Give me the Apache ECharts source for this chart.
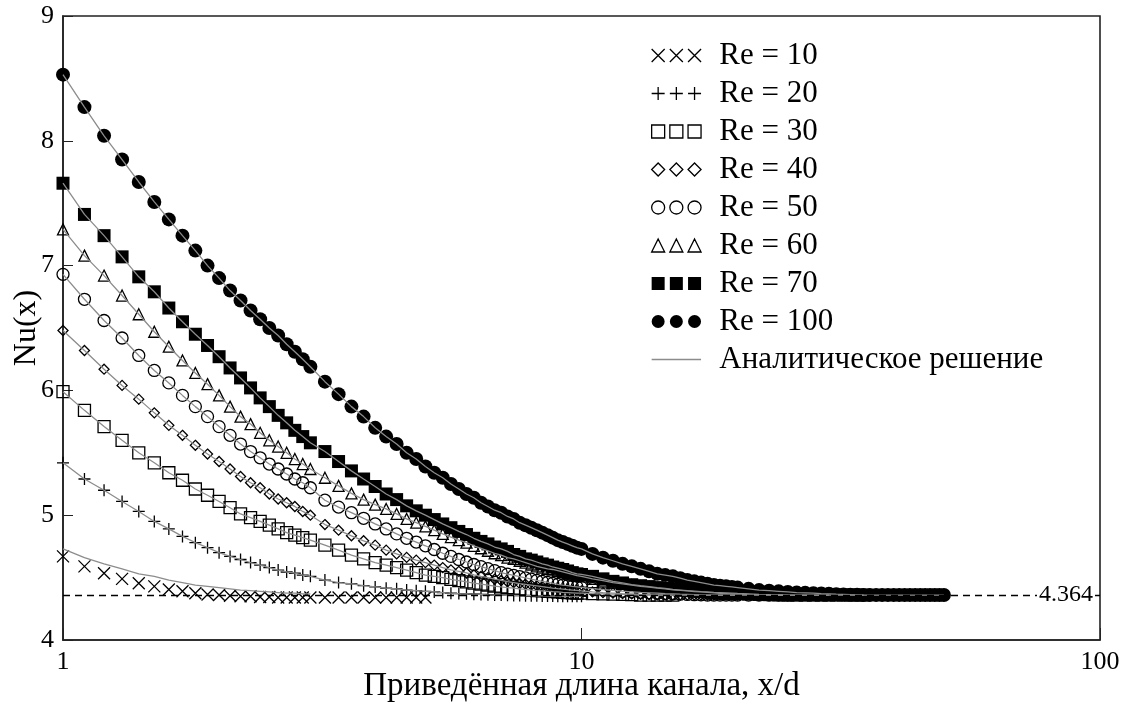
<!DOCTYPE html>
<html>
<head>
<meta charset="utf-8">
<title>Nu(x)</title>
<script src="https://cdn.jsdelivr.net/npm/echarts@6/dist/echarts.min.js"></script>
<style>
html, body { margin: 0; padding: 0; background: #fff; }
#main { width: 1121px; height: 703px; }
</style>
</head>
<body>
<div id="main"></div>
<script>
// x/d points, shared by all series (each series uses as many as it has values)
var xd = [1, 1.1, 1.2, 1.3, 1.4, 1.5, 1.6, 1.7, 1.8, 1.9, 2, 2.1, 2.2, 2.3, 2.4, 2.5, 2.6, 2.7, 2.8, 2.9, 3,
    3.2, 3.4, 3.6, 3.8, 4, 4.2, 4.4, 4.6, 4.8, 5, 5.2, 5.4, 5.6, 5.8, 6, 6.2, 6.4, 6.6, 6.8, 7,
    7.2, 7.4, 7.6, 7.8, 8, 8.2, 8.4, 8.6, 8.8, 9, 9.2, 9.4, 9.6, 9.8, 10,
    10.5, 11, 11.5, 12, 12.5, 13, 13.5, 14, 14.5, 15, 15.5, 16, 16.5, 17, 17.5, 18, 18.5, 19, 19.5, 20,
    21, 22, 23, 24, 25, 26, 27, 28, 29, 30, 31, 32, 33, 34, 35, 36, 37, 38, 39, 40,
    41, 42, 43, 44, 45, 46, 47, 48, 49, 50];

var nuRe10 = [4.67, 4.59, 4.535, 4.49, 4.455, 4.43, 4.405, 4.39, 4.375, 4.365, 4.36, 4.355, 4.35, 4.35, 4.345, 4.345, 4.34, 4.34, 4.34, 4.34, 4.34,
    4.34, 4.34, 4.34, 4.34, 4.34, 4.34, 4.34, 4.34, 4.34, 4.34];

var nuRe20 = [5.42, 5.29, 5.2, 5.11, 5.03, 4.95, 4.89, 4.83, 4.78, 4.74, 4.7, 4.67, 4.645, 4.62, 4.6, 4.58, 4.56, 4.545, 4.535, 4.52, 4.51,
    4.48, 4.46, 4.45, 4.435, 4.425, 4.415, 4.41, 4.4, 4.395, 4.39, 4.385, 4.38, 4.375, 4.372, 4.37, 4.367, 4.365, 4.362, 4.36, 4.36,
    4.358, 4.357, 4.356, 4.355, 4.355, 4.354, 4.353, 4.352, 4.352, 4.351, 4.35, 4.35, 4.35, 4.35, 4.35];

var nuRe30 = [5.99, 5.84, 5.71, 5.6, 5.5, 5.42, 5.34, 5.28, 5.21, 5.16, 5.11, 5.06, 5.01, 4.98, 4.95, 4.92, 4.89, 4.86, 4.84, 4.82, 4.8,
    4.76, 4.72, 4.68, 4.65, 4.62, 4.6, 4.58, 4.56, 4.54, 4.52, 4.51, 4.5, 4.485, 4.475, 4.465, 4.455, 4.447, 4.44, 4.432, 4.425,
    4.42, 4.415, 4.41, 4.405, 4.4, 4.396, 4.393, 4.39, 4.387, 4.385, 4.382, 4.38, 4.378, 4.376, 4.375,
    4.372, 4.37, 4.367, 4.365, 4.363, 4.36, 4.36, 4.36, 4.36, 4.36];

var nuRe40 = [6.48, 6.32, 6.17, 6.04, 5.93, 5.82, 5.72, 5.64, 5.56, 5.49, 5.43, 5.37, 5.31, 5.26, 5.22, 5.17, 5.13, 5.1, 5.07, 5.03, 5,
    4.925, 4.88, 4.835, 4.795, 4.76, 4.72, 4.69, 4.662, 4.64, 4.62, 4.6, 4.58, 4.562, 4.55, 4.537, 4.522, 4.51, 4.5, 4.487, 4.477,
    4.467, 4.46, 4.452, 4.446, 4.44, 4.434, 4.428, 4.422, 4.416, 4.411, 4.407, 4.403, 4.4, 4.397, 4.393,
    4.385, 4.38, 4.376, 4.372, 4.369, 4.366, 4.364, 4.362, 4.361, 4.36, 4.36, 4.36, 4.36, 4.36, 4.36, 4.36, 4.36, 4.36, 4.36, 4.36];

var nuRe50 = [6.93, 6.73, 6.56, 6.42, 6.28, 6.16, 6.06, 5.96, 5.87, 5.79, 5.71, 5.64, 5.57, 5.51, 5.46, 5.41, 5.37, 5.33, 5.29, 5.26, 5.22,
    5.12, 5.065, 5.02, 4.975, 4.93, 4.89, 4.85, 4.815, 4.785, 4.755, 4.725, 4.695, 4.67, 4.645, 4.625, 4.605, 4.588, 4.572, 4.556, 4.54,
    4.528, 4.518, 4.508, 4.498, 4.488, 4.478, 4.47, 4.462, 4.454, 4.446, 4.44, 4.435, 4.43, 4.426, 4.422,
    4.412, 4.403, 4.397, 4.391, 4.386, 4.381, 4.378, 4.375, 4.372, 4.37, 4.367, 4.365, 4.363, 4.362, 4.36, 4.36, 4.36, 4.36, 4.36, 4.36,
    4.36, 4.36, 4.36, 4.36, 4.36];

var nuRe60 = [7.29, 7.08, 6.92, 6.76, 6.61, 6.47, 6.35, 6.24, 6.14, 6.05, 5.96, 5.87, 5.79, 5.73, 5.66, 5.6, 5.55, 5.5, 5.45, 5.41, 5.37,
    5.3, 5.235, 5.175, 5.125, 5.085, 5.05, 5.01, 4.97, 4.94, 4.91, 4.88, 4.85, 4.825, 4.8, 4.78, 4.755, 4.735, 4.715, 4.695, 4.68,
    4.66, 4.65, 4.635, 4.62, 4.605, 4.59, 4.58, 4.57, 4.565, 4.555, 4.545, 4.535, 4.525, 4.515, 4.51,
    4.49, 4.475, 4.46, 4.45, 4.44, 4.43, 4.423, 4.416, 4.41, 4.402, 4.398, 4.394, 4.388, 4.385, 4.381, 4.378, 4.374, 4.372, 4.37, 4.368,
    4.365, 4.363, 4.362, 4.36, 4.36, 4.36, 4.36, 4.36, 4.36, 4.36];

var nuRe70 = [7.66, 7.41, 7.24, 7.07, 6.91, 6.79, 6.66, 6.55, 6.45, 6.36, 6.27, 6.18, 6.1, 6.02, 5.94, 5.87, 5.8, 5.74, 5.68, 5.63, 5.58,
    5.51, 5.43, 5.355, 5.29, 5.23, 5.17, 5.125, 5.075, 5.035, 5, 4.965, 4.93, 4.9, 4.87, 4.845, 4.815, 4.79, 4.77, 4.745, 4.73,
    4.71, 4.685, 4.67, 4.65, 4.64, 4.625, 4.61, 4.6, 4.585, 4.575, 4.565, 4.553, 4.54, 4.53, 4.525,
    4.51, 4.49, 4.47, 4.457, 4.443, 4.435, 4.428, 4.42, 4.413, 4.405, 4.4, 4.395, 4.392, 4.388, 4.385, 4.381, 4.379, 4.377, 4.375, 4.373,
    4.37, 4.366, 4.363, 4.362, 4.36, 4.36, 4.36, 4.36, 4.36, 4.36, 4.36, 4.36, 4.36, 4.36, 4.36];

var nuRe100 = [8.53, 8.27, 8.04, 7.85, 7.67, 7.51, 7.37, 7.24, 7.12, 7, 6.9, 6.8, 6.72, 6.64, 6.57, 6.5, 6.44, 6.37, 6.31, 6.25, 6.19,
    6.07, 5.97, 5.87, 5.79, 5.7, 5.63, 5.57, 5.5, 5.45, 5.39, 5.34, 5.3, 5.25, 5.21, 5.17, 5.14, 5.1, 5.07, 5.04, 5.02,
    4.99, 4.97, 4.94, 4.92, 4.9, 4.88, 4.86, 4.84, 4.82, 4.8, 4.785, 4.77, 4.755, 4.74, 4.73,
    4.69, 4.66, 4.635, 4.61, 4.59, 4.57, 4.55, 4.53, 4.52, 4.51, 4.495, 4.48, 4.47, 4.46, 4.45, 4.44, 4.435, 4.43, 4.425, 4.42,
    4.41, 4.4, 4.395, 4.39, 4.385, 4.38, 4.378, 4.375, 4.372, 4.37, 4.367, 4.365, 4.363, 4.362, 4.36, 4.36, 4.36, 4.36, 4.36, 4.36,
    4.36, 4.36, 4.36, 4.36, 4.36, 4.36, 4.36, 4.36, 4.36, 4.36];

// analytic curve for Re = 10 (the others run through their points)
var anRe10 = [4.73, 4.66, 4.61, 4.57, 4.53, 4.51, 4.48, 4.46, 4.44, 4.43, 4.42, 4.41, 4.4, 4.395, 4.39, 4.385, 4.38, 4.375, 4.375, 4.37, 4.37];

var nuLimit = 4.364;
var reNames = ['Re = 10', 'Re = 20', 'Re = 30', 'Re = 40', 'Re = 50', 'Re = 60', 'Re = 70', 'Re = 100'];
var lineName = 'Аналитическое решение';

var FONT = 'Liberation Serif';

function toPoints(values) {
    return values.map(function (v, i) { return [xd[i], v]; });
}

// marker look for every Re (symbol on the plot, triple icon in the legend)
var marks = [
    {symbol: 'path://M0,0L10,10M10,0L0,10', size: 12, fill: false,
        icon: 'path://M0,0L10,10M10,0L0,10M14,0L24,10M24,0L14,10M28,0L38,10M38,0L28,10'},
    {symbol: 'path://M5,0L5,10M0,5L10,5', size: 12, fill: false,
        icon: 'path://M5,0L5,10M0,5L10,5M19,0L19,10M14,5L24,5M33,0L33,10M28,5L38,5'},
    {symbol: 'rect', size: 12, fill: false,
        icon: 'path://M0,0H10V10H0ZM14,0H24V10H14ZM28,0H38V10H28Z'},
    {symbol: 'diamond', size: 10, fill: false,
        icon: 'path://M5,0L10,5L5,10L0,5ZM19,0L24,5L19,10L14,5ZM33,0L38,5L33,10L28,5Z'},
    {symbol: 'circle', size: 12, fill: false,
        icon: 'path://M0,5A5,5,0,1,0,10,5A5,5,0,1,0,0,5ZM14,5A5,5,0,1,0,24,5A5,5,0,1,0,14,5ZM28,5A5,5,0,1,0,38,5A5,5,0,1,0,28,5Z'},
    {symbol: 'triangle', size: 11, fill: false,
        icon: 'path://M5,0L10,10L0,10ZM19,0L24,10L14,10ZM33,0L38,10L28,10Z'},
    {symbol: 'rect', size: 13, fill: true,
        icon: 'path://M0,0H10V10H0ZM14,0H24V10H14ZM28,0H38V10H28Z'},
    {symbol: 'circle', size: 14, fill: true,
        icon: 'path://M0,5A5,5,0,1,0,10,5A5,5,0,1,0,0,5ZM14,5A5,5,0,1,0,24,5A5,5,0,1,0,14,5ZM28,5A5,5,0,1,0,38,5A5,5,0,1,0,28,5Z'}
];

function markStyle(m) {
    return {
        color: m.fill ? '#000' : 'rgba(0,0,0,0)',
        borderColor: '#000',
        borderWidth: m.fill ? 0 : 1.3,
        opacity: 1
    };
}

function buildOption() {
    var nuSets = [nuRe10, nuRe20, nuRe30, nuRe40, nuRe50, nuRe60, nuRe70, nuRe100];
    var series = [], legendData = [];

    for (var i = 0; i < nuSets.length; i++) {
        series.push({
            name: reNames[i],
            type: 'scatter',
            data: toPoints(nuSets[i]),
            symbol: marks[i].symbol,
            symbolSize: marks[i].size,
            itemStyle: markStyle(marks[i]),
            silent: true,
            z: 2
        });
        legendData.push({name: reNames[i], icon: marks[i].icon, itemStyle: markStyle(marks[i])});
    }

    for (var j = 0; j < nuSets.length; j++) {
        var line = {
            name: lineName,
            type: 'line',
            data: toPoints(j === 0 ? anRe10 : nuSets[j]),
            symbol: 'none',
            showSymbol: false,
            lineStyle: {color: '#8c8c8c', width: 1.3},
            silent: true,
            z: 3
        };
        if (j === 0) {
            line.markLine = {
                silent: true,
                symbol: 'none',
                lineStyle: {color: '#000', type: [7, 5], width: 1.3},
                label: {
                    position: 'insideEndTop',
                    distance: [5, -12],
                    formatter: String(nuLimit),
                    fontFamily: FONT,
                    fontSize: 24,
                    color: '#000',
                    backgroundColor: '#fff',
                    padding: [0, 2]
                },
                data: [{yAxis: nuLimit}]
            };
        }
        series.push(line);
    }
    legendData.push({
        name: lineName,
        icon: 'path://M0,0L0.01,0M0,4.4H38V5.6H0ZM0,10L0.01,10',
        itemStyle: {color: '#8c8c8c', borderWidth: 0}
    });

    return {
        animation: false,
        backgroundColor: '#fff',
        grid: {
            left: 63, right: 21, top: 16, bottom: 63,
            outerBoundsMode: 'none',
            show: true, borderColor: '#222', borderWidth: 1.6
        },
        legend: {
            orient: 'vertical',
            left: 651,
            top: 40,
            padding: 0,
            itemWidth: 52,
            itemHeight: 13,
            itemGap: 7,
            selectedMode: false,
            textStyle: {fontFamily: FONT, fontSize: 31, lineHeight: 31, color: '#000', padding: [0, 0, 0, 12]},
            data: legendData
        },
        xAxis: {
            type: 'log',
            logBase: 10,
            min: 1,
            max: 100,
            name: 'Приведённая длина канала, x/d',
            nameLocation: 'middle',
            nameGap: 30,
            nameMoveOverlap: false,
            nameTextStyle: {fontFamily: FONT, fontSize: 33, color: '#000'},
            axisLine: {lineStyle: {color: '#222', width: 1.6}},
            axisTick: {inside: true, length: 12, lineStyle: {color: '#222'}},
            axisLabel: {fontFamily: FONT, fontSize: 26, color: '#000', margin: 9},
            splitLine: {show: false}
        },
        yAxis: {
            type: 'value',
            min: 4,
            max: 9,
            interval: 1,
            name: 'Nu(x)',
            nameLocation: 'middle',
            nameRotate: 90,
            nameGap: 20,
            nameMoveOverlap: false,
            nameTextStyle: {fontFamily: FONT, fontSize: 32, color: '#000'},
            axisLine: {show: true, lineStyle: {color: '#222', width: 1.6}},
            axisTick: {show: true, inside: true, length: 10, lineStyle: {color: '#222'}},
            axisLabel: {fontFamily: FONT, fontSize: 26, color: '#000', margin: 9},
            splitLine: {show: false}
        },
        series: series
    };
}

var chart = echarts.init(document.getElementById('main'));
chart.setOption(buildOption());
</script>
</body>
</html>
